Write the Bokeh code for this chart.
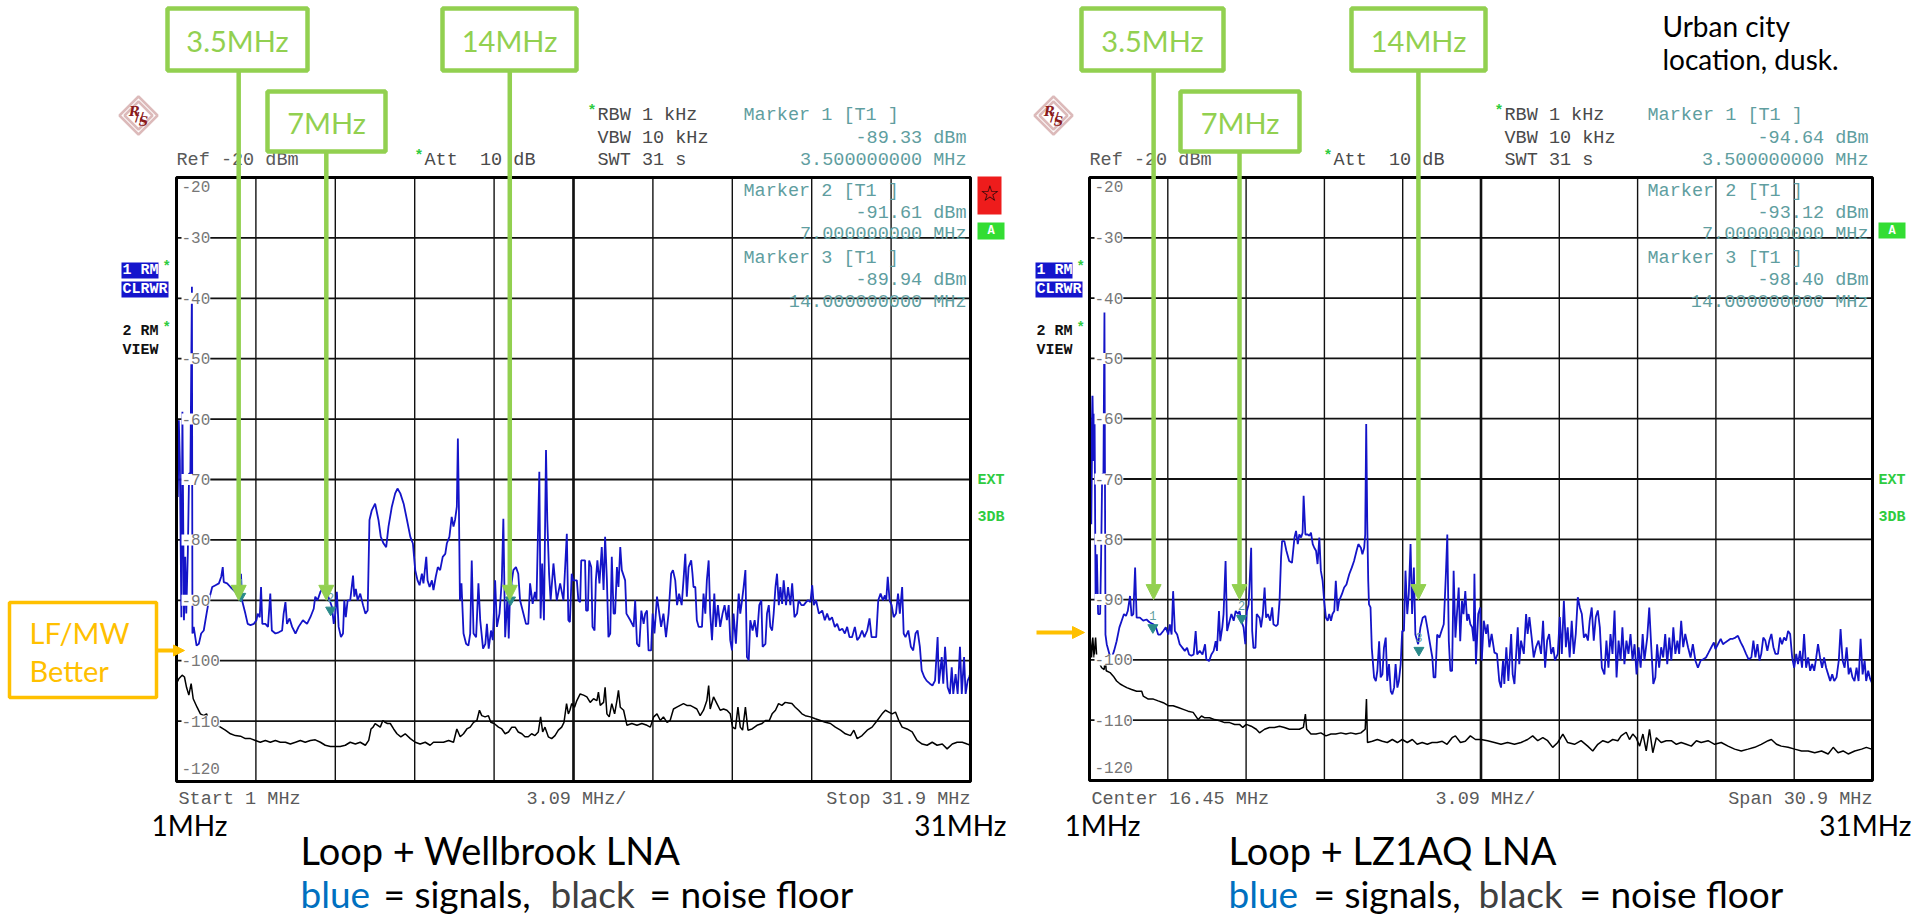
from bokeh.plotting import figure
from bokeh.layouts import row
from bokeh.models import (Range1d, Label, BoxAnnotation, Arrow, NormalHead, PolyAnnotation)
from bokeh.embed import file_html
from bokeh.resources import INLINE

# ---------------- data ----------------
F_START, F_STOP, F_DIV = 1.0, 31.9, 3.09
DB_TOP, DB_BOTTOM = -20, -120
y_tick_values = [-20, -30, -40, -50, -60, -70, -80, -90, -100, -110, -120]
y_tick_labels = ["-20", "-30", "-40", "-50", "-60", "-70", "-80", "-90", "-100", "-110", "-120"]

marker_f = [3.5, 7.0, 14.0]
wb_marker_db = [-89.33, -91.61, -89.94]
lz_marker_db = [-94.64, -93.12, -98.40]
arrow_labels = ["3.5MHz", "7MHz", "14MHz"]
wb_arrow_f = [3.42, 6.83, 13.97]
lz_arrow_f = [3.53, 6.92, 13.98]
ARROW_TIP_DB = -90

# Loop + Wellbrook LNA, trace 1 (signals)
wb_signal = [(1.00,-72.0),(1.03,-60.2),(1.05,-72.9),(1.09,-60.2),(1.13,-66.8),(1.19,-92.8),(1.23,-58.8),(1.29,-93.3),(1.34,-82.8),(1.38,-92.2),(1.44,-82.3),(1.49,-69.0),(1.54,-69.0),(1.60,-38.1),(1.62,-95.5),(1.67,-94.4),(1.78,-97.5),(1.87,-97.2),(1.96,-95.5),(2.06,-95.0),(2.17,-92.2),(2.26,-90.0),(2.39,-87.8),(2.52,-87.5),(2.65,-87.2),(2.74,-86.1),(2.80,-84.5),(2.84,-87.0),(2.97,-87.2),(3.10,-87.8),(3.29,-88.6),(3.42,-89.4),(3.51,-85.6),(3.55,-90.0),(3.68,-92.2),(3.77,-93.9),(3.88,-94.1),(4.01,-93.9),(4.11,-93.3),(4.16,-92.2),(4.24,-92.8),(4.29,-87.8),(4.34,-93.9),(4.46,-93.9),(4.56,-94.4),(4.65,-88.9),(4.71,-95.0),(4.85,-95.5),(4.98,-95.3),(5.11,-95.0),(5.17,-92.2),(5.24,-90.3),(5.30,-93.9),(5.40,-93.0),(5.50,-94.4),(5.63,-95.5),(5.75,-94.4),(5.92,-93.3),(6.08,-93.9),(6.21,-92.8),(6.34,-91.4),(6.40,-89.4),(6.49,-90.0),(6.60,-88.6),(6.73,-87.8),(6.86,-88.9),(6.96,-90.0),(7.05,-91.1),(7.12,-93.9),(7.18,-92.2),(7.24,-88.6),(7.31,-94.4),(7.40,-96.1),(7.48,-95.5),(7.53,-90.0),(7.59,-92.8),(7.66,-90.0),(7.76,-90.0),(7.87,-85.9),(7.92,-89.4),(7.98,-88.1),(8.05,-90.0),(8.15,-88.9),(8.26,-90.8),(8.35,-92.2),(8.44,-91.7),(8.51,-76.7),(8.60,-75.1),(8.73,-74.0),(8.86,-76.7),(8.95,-79.5),(9.06,-80.6),(9.16,-81.2),(9.25,-77.8),(9.38,-74.5),(9.51,-72.3),(9.60,-71.5),(9.71,-72.3),(9.84,-74.0),(9.97,-76.7),(10.10,-79.5),(10.20,-80.6),(10.29,-85.0),(10.38,-86.7),(10.46,-87.5),(10.55,-85.6),(10.61,-87.2),(10.72,-82.8),(10.77,-86.7),(10.85,-87.8),(10.94,-86.7),(11.00,-88.3),(11.09,-86.1),(11.17,-84.5),(11.26,-85.0),(11.36,-82.8),(11.46,-82.3),(11.52,-80.6),(11.62,-79.5),(11.71,-76.2),(11.78,-77.8),(11.84,-76.7),(11.91,-74.5),(11.95,-63.2),(11.99,-74.3),(12.03,-90.0),(12.09,-87.2),(12.17,-95.5),(12.27,-97.2),(12.36,-97.5),(12.43,-95.5),(12.49,-83.4),(12.56,-95.5),(12.66,-96.1),(12.75,-87.2),(12.82,-93.3),(12.93,-98.0),(13.02,-97.2),(13.08,-93.9),(13.15,-98.0),(13.24,-95.0),(13.31,-96.6),(13.40,-86.7),(13.47,-94.4),(13.57,-92.2),(13.66,-86.7),(13.72,-76.5),(13.79,-96.1),(13.88,-89.4),(13.93,-96.3),(13.98,-88.9),(14.11,-85.0),(14.21,-84.5),(14.30,-85.6),(14.37,-90.0),(14.50,-92.2),(14.60,-93.9),(14.69,-93.9),(14.76,-87.2),(14.86,-90.6),(14.95,-88.6),(15.01,-90.0),(15.12,-68.7),(15.17,-93.0),(15.23,-83.9),(15.30,-93.3),(15.38,-65.1),(15.43,-76.7),(15.50,-85.6),(15.56,-90.0),(15.67,-83.9),(15.80,-90.0),(15.93,-87.2),(16.06,-90.0),(16.19,-79.0),(16.25,-93.3),(16.31,-93.6),(16.38,-85.6),(16.44,-86.7),(16.49,-86.7),(16.58,-86.7),(16.64,-90.0),(16.71,-90.3),(16.75,-83.4),(16.84,-83.4),(16.90,-83.4),(16.94,-91.7),(17.01,-91.7),(17.06,-83.4),(17.14,-84.5),(17.19,-94.4),(17.27,-95.0),(17.32,-86.7),(17.38,-83.4),(17.46,-87.2),(17.55,-81.2),(17.62,-88.3),(17.68,-79.5),(17.75,-86.7),(17.81,-96.1),(17.88,-95.5),(17.94,-82.8),(18.01,-92.2),(18.07,-92.2),(18.14,-84.5),(18.20,-87.8),(18.27,-81.2),(18.33,-85.0),(18.46,-86.7),(18.51,-92.2),(18.66,-93.3),(18.79,-94.4),(18.85,-90.0),(18.92,-97.2),(19.01,-97.7),(19.09,-91.7),(19.18,-93.9),(19.24,-92.2),(19.31,-91.7),(19.37,-98.3),(19.47,-98.3),(19.53,-92.2),(19.60,-95.5),(19.70,-89.4),(19.79,-92.2),(19.86,-94.4),(19.95,-92.2),(20.05,-96.1),(20.15,-92.2),(20.25,-85.6),(20.32,-85.0),(20.41,-86.7),(20.48,-90.8),(20.56,-88.9),(20.66,-90.8),(20.73,-86.7),(20.80,-82.3),(20.86,-89.4),(20.93,-84.5),(21.03,-83.4),(21.08,-85.6),(21.12,-87.8),(21.19,-87.8),(21.25,-93.3),(21.32,-94.4),(21.45,-94.4),(21.51,-88.9),(21.58,-92.2),(21.64,-86.7),(21.71,-83.4),(21.77,-92.2),(21.84,-96.6),(21.93,-88.9),(21.99,-94.4),(22.07,-90.8),(22.16,-94.4),(22.25,-92.2),(22.33,-90.8),(22.42,-93.3),(22.49,-90.8),(22.55,-96.6),(22.62,-98.3),(22.68,-92.2),(22.77,-97.2),(22.88,-88.9),(22.94,-92.2),(23.01,-90.0),(23.07,-87.8),(23.14,-85.0),(23.20,-99.4),(23.27,-99.9),(23.33,-93.3),(23.42,-95.0),(23.50,-93.3),(23.59,-96.1),(23.68,-90.8),(23.76,-90.0),(23.81,-97.7),(23.92,-97.2),(23.98,-92.2),(24.05,-90.8),(24.11,-94.4),(24.18,-95.0),(24.24,-92.2),(24.31,-87.8),(24.37,-85.6),(24.44,-90.8),(24.50,-87.8),(24.57,-90.6),(24.63,-86.7),(24.72,-90.8),(24.80,-87.8),(24.89,-90.8),(24.96,-87.2),(25.05,-92.8),(25.15,-92.2),(25.21,-90.0),(25.32,-90.8),(25.41,-90.8),(25.50,-90.3),(25.58,-90.0),(25.67,-90.3),(25.74,-87.5),(25.80,-90.8),(25.89,-90.0),(26.00,-92.2),(26.13,-91.7),(26.23,-93.3),(26.32,-92.2),(26.41,-93.3),(26.51,-92.8),(26.62,-94.4),(26.71,-93.9),(26.80,-95.0),(26.91,-94.7),(27.01,-95.5),(27.10,-94.4),(27.19,-96.1),(27.29,-96.1),(27.40,-94.4),(27.49,-96.6),(27.58,-96.1),(27.68,-95.0),(27.77,-96.1),(27.88,-95.0),(27.97,-93.0),(28.05,-96.1),(28.14,-96.1),(28.23,-96.1),(28.31,-90.0),(28.40,-88.9),(28.49,-90.0),(28.57,-89.2),(28.62,-90.0),(28.68,-86.1),(28.75,-90.0),(28.83,-90.8),(28.91,-92.8),(29.00,-92.2),(29.08,-88.9),(29.15,-92.2),(29.24,-87.8),(29.30,-95.5),(29.37,-96.1),(29.48,-95.0),(29.58,-97.7),(29.67,-98.3),(29.76,-95.5),(29.84,-95.0),(29.93,-97.7),(30.00,-101.6),(30.10,-102.7),(30.19,-103.3),(30.32,-103.8),(30.42,-104.1),(30.52,-103.3),(30.62,-96.1),(30.67,-103.8),(30.78,-99.4),(30.84,-103.8),(30.91,-97.7),(31.01,-104.4),(31.10,-105.5),(31.17,-101.1),(31.23,-105.5),(31.32,-102.2),(31.40,-105.5),(31.49,-97.7),(31.56,-105.5),(31.65,-99.4),(31.71,-105.5),(31.79,-103.3),(31.85,-102.7),(31.90,-102.0)]

# Loop + Wellbrook LNA, trace 2 (noise floor)
wb_noise = [(1.00,-103.0),(1.03,-103.5),(1.09,-103.0),(1.22,-102.4),(1.31,-102.7),(1.39,-104.4),(1.48,-105.7),(1.57,-103.8),(1.65,-106.3),(1.80,-107.7),(1.93,-108.8),(2.06,-109.1),(2.17,-108.8),(2.26,-109.9),(2.39,-109.9),(2.52,-110.4),(2.71,-111.0),(2.90,-111.5),(3.10,-112.1),(3.29,-112.4),(3.49,-112.5),(3.68,-112.9),(3.88,-112.9),(4.07,-113.2),(4.26,-113.5),(4.46,-113.2),(4.65,-113.5),(4.85,-113.2),(5.04,-113.5),(5.24,-113.5),(5.43,-113.8),(5.63,-113.5),(5.82,-113.2),(6.01,-113.5),(6.21,-113.2),(6.40,-113.1),(6.60,-113.5),(6.79,-114.0),(6.99,-114.2),(7.18,-114.2),(7.37,-114.2),(7.57,-114.0),(7.76,-113.5),(7.96,-113.8),(8.15,-113.5),(8.35,-114.0),(8.48,-113.2),(8.57,-111.3),(8.65,-111.0),(8.73,-110.4),(8.83,-110.7),(8.93,-111.0),(9.03,-109.9),(9.12,-110.2),(9.21,-110.4),(9.32,-110.4),(9.45,-111.3),(9.58,-112.1),(9.73,-112.6),(9.90,-112.1),(10.10,-112.9),(10.29,-113.5),(10.48,-113.8),(10.68,-113.5),(10.87,-114.0),(11.00,-113.5),(11.20,-113.5),(11.39,-113.5),(11.59,-113.2),(11.78,-113.5),(11.91,-111.3),(12.04,-112.6),(12.17,-112.1),(12.30,-111.3),(12.43,-111.0),(12.56,-110.2),(12.69,-109.9),(12.79,-108.2),(12.88,-109.1),(13.01,-109.3),(13.14,-109.1),(13.23,-110.2),(13.36,-110.4),(13.53,-111.0),(13.66,-111.3),(13.79,-112.1),(13.92,-111.8),(14.05,-111.0),(14.18,-111.0),(14.30,-111.8),(14.44,-112.1),(14.56,-112.6),(14.69,-112.6),(14.82,-112.1),(14.95,-112.4),(15.08,-111.8),(15.17,-109.3),(15.25,-111.8),(15.34,-111.0),(15.47,-112.6),(15.60,-112.9),(15.73,-112.4),(15.86,-111.5),(15.99,-111.0),(16.08,-110.2),(16.18,-107.1),(16.25,-108.8),(16.31,-108.2),(16.38,-107.1),(16.49,-107.7),(16.58,-106.6),(16.71,-105.5),(16.84,-105.7),(16.97,-106.0),(17.10,-106.9),(17.23,-106.3),(17.36,-106.6),(17.42,-105.2),(17.49,-107.4),(17.62,-106.9),(17.68,-104.4),(17.75,-108.8),(17.84,-109.3),(17.94,-107.1),(18.05,-108.8),(18.14,-106.6),(18.20,-104.9),(18.27,-107.7),(18.40,-108.2),(18.53,-110.7),(18.72,-110.4),(18.92,-110.7),(19.11,-110.4),(19.31,-110.7),(19.44,-111.0),(19.57,-109.3),(19.70,-108.8),(19.83,-109.9),(19.95,-109.3),(20.09,-110.2),(20.21,-109.9),(20.34,-108.0),(20.47,-107.7),(20.60,-107.4),(20.73,-107.1),(20.86,-107.4),(20.99,-107.4),(21.12,-107.7),(21.25,-108.0),(21.38,-109.1),(21.51,-108.2),(21.64,-106.6),(21.71,-104.1),(21.77,-108.0),(21.90,-106.0),(22.03,-107.1),(22.16,-108.2),(22.29,-108.0),(22.42,-108.2),(22.55,-108.8),(22.64,-111.0),(22.75,-111.3),(22.85,-107.7),(22.94,-111.0),(23.03,-111.5),(23.14,-107.7),(23.24,-111.5),(23.40,-111.3),(23.59,-110.7),(23.79,-110.4),(23.92,-109.9),(24.07,-109.9),(24.18,-108.8),(24.31,-108.2),(24.43,-107.1),(24.56,-107.4),(24.69,-106.9),(24.82,-107.0),(24.95,-107.1),(25.08,-107.7),(25.21,-108.2),(25.34,-108.8),(25.47,-109.1),(25.67,-109.3),(25.86,-109.6),(26.06,-109.9),(26.25,-110.2),(26.45,-110.4),(26.64,-111.0),(26.84,-111.5),(27.03,-112.1),(27.23,-112.4),(27.36,-111.5),(27.49,-112.9),(27.68,-112.4),(27.88,-111.5),(28.07,-111.0),(28.27,-109.9),(28.46,-108.8),(28.59,-108.2),(28.72,-108.5),(28.85,-108.8),(28.98,-108.5),(29.11,-109.9),(29.24,-111.0),(29.43,-111.3),(29.63,-111.8),(29.82,-113.2),(30.02,-113.8),(30.21,-114.0),(30.41,-113.5),(30.60,-114.0),(30.80,-113.8),(30.99,-114.6),(31.19,-113.8),(31.38,-113.5),(31.58,-113.5),(31.77,-113.8),(31.90,-114.0)]

# Loop + LZ1AQ LNA, trace 1 (signals)
lz_signal = [(1.00,-75.0),(1.03,-56.2),(1.07,-77.5),(1.12,-56.2),(1.16,-67.0),(1.20,-59.2),(1.24,-90.2),(1.29,-82.5),(1.34,-92.4),(1.42,-92.4),(1.46,-82.5),(1.50,-69.2),(1.55,-69.2),(1.59,-42.4),(1.63,-95.8),(1.68,-97.4),(1.79,-99.1),(1.88,-99.6),(1.97,-98.5),(2.07,-96.9),(2.18,-94.6),(2.27,-93.5),(2.36,-92.4),(2.44,-92.7),(2.51,-91.9),(2.60,-89.4),(2.66,-92.7),(2.73,-92.4),(2.80,-84.7),(2.86,-93.0),(2.99,-93.0),(3.12,-93.5),(3.25,-93.3),(3.38,-93.8),(3.52,-94.1),(3.62,-94.6),(3.71,-95.8),(3.80,-95.8),(3.91,-95.2),(4.01,-94.6),(4.11,-95.8),(4.17,-94.1),(4.24,-95.8),(4.30,-88.6),(4.37,-95.2),(4.46,-95.8),(4.56,-97.4),(4.67,-98.0),(4.76,-98.5),(4.85,-98.0),(4.93,-99.1),(5.02,-99.3),(5.11,-99.1),(5.19,-95.2),(5.25,-99.1),(5.35,-98.5),(5.46,-99.1),(5.56,-97.4),(5.61,-99.9),(5.72,-100.2),(5.81,-99.1),(5.90,-98.5),(5.98,-96.9),(6.03,-98.5),(6.11,-91.9),(6.16,-96.9),(6.24,-94.6),(6.29,-92.4),(6.37,-83.6),(6.43,-95.2),(6.53,-93.5),(6.60,-92.4),(6.69,-93.5),(6.77,-91.9),(6.86,-92.4),(6.92,-91.9),(6.99,-93.5),(7.08,-94.6),(7.15,-97.4),(7.21,-91.9),(7.28,-90.8),(7.38,-81.4),(7.42,-95.2),(7.47,-98.0),(7.55,-98.0),(7.60,-92.4),(7.71,-93.0),(7.77,-94.6),(7.84,-92.4),(7.91,-88.0),(7.97,-93.0),(8.04,-92.4),(8.13,-93.5),(8.21,-91.3),(8.26,-94.1),(8.36,-94.4),(8.43,-94.1),(8.50,-90.2),(8.56,-83.0),(8.60,-80.3),(8.69,-80.3),(8.77,-81.9),(8.88,-83.6),(8.99,-83.9),(9.09,-79.7),(9.15,-78.6),(9.22,-80.8),(9.28,-79.2),(9.35,-79.7),(9.41,-78.9),(9.45,-72.8),(9.52,-79.2),(9.61,-79.2),(9.68,-79.4),(9.74,-78.9),(9.81,-80.8),(9.87,-81.4),(9.94,-81.9),(10.00,-84.1),(10.07,-79.7),(10.13,-85.2),(10.20,-86.9),(10.26,-90.2),(10.33,-93.0),(10.40,-93.5),(10.46,-92.4),(10.53,-93.5),(10.59,-92.4),(10.66,-91.9),(10.72,-86.9),(10.79,-91.9),(10.85,-90.2),(10.96,-89.1),(11.05,-88.0),(11.14,-87.5),(11.25,-85.8),(11.35,-84.7),(11.44,-83.6),(11.54,-81.9),(11.61,-80.8),(11.71,-81.4),(11.77,-82.5),(11.84,-81.4),(11.88,-79.2),(11.92,-60.9),(11.96,-77.0),(12.00,-86.9),(12.03,-90.8),(12.09,-91.3),(12.14,-98.0),(12.23,-102.9),(12.30,-103.5),(12.36,-101.8),(12.43,-96.9),(12.49,-102.9),(12.56,-102.4),(12.62,-98.0),(12.69,-96.3),(12.75,-103.5),(12.82,-100.7),(12.89,-105.2),(12.95,-105.7),(13.02,-104.6),(13.08,-100.7),(13.15,-104.6),(13.21,-103.5),(13.28,-100.7),(13.34,-95.2),(13.41,-95.2),(13.47,-85.2),(13.54,-92.4),(13.60,-89.1),(13.67,-80.8),(13.73,-92.4),(13.80,-84.7),(13.86,-95.8),(13.97,-97.4),(14.06,-94.6),(14.15,-93.0),(14.25,-92.7),(14.33,-94.6),(14.42,-96.9),(14.53,-99.6),(14.58,-102.9),(14.65,-102.9),(14.72,-95.8),(14.81,-96.3),(14.89,-95.2),(14.98,-94.1),(15.07,-85.2),(15.12,-79.2),(15.18,-96.9),(15.24,-101.8),(15.31,-101.8),(15.37,-85.2),(15.44,-96.3),(15.50,-92.4),(15.57,-88.0),(15.63,-96.9),(15.70,-90.2),(15.76,-92.4),(15.83,-88.6),(15.90,-93.5),(15.96,-92.4),(16.03,-94.1),(16.10,-94.6),(16.16,-96.9),(16.19,-85.7),(16.25,-100.7),(16.34,-92.4),(16.42,-91.3),(16.48,-100.1),(16.56,-93.5),(16.65,-95.7),(16.71,-94.1),(16.78,-97.9),(16.87,-95.7),(16.98,-98.8),(17.08,-99.0),(17.17,-103.5),(17.24,-104.6),(17.32,-100.1),(17.37,-104.0),(17.45,-97.9),(17.53,-103.5),(17.64,-95.7),(17.70,-102.4),(17.77,-104.0),(17.83,-99.6),(17.90,-94.6),(17.96,-100.7),(18.03,-96.8),(18.14,-99.0),(18.23,-92.4),(18.29,-95.7),(18.36,-92.9),(18.45,-96.3),(18.53,-99.6),(18.62,-97.9),(18.72,-96.8),(18.82,-99.0),(18.90,-93.5),(18.98,-101.3),(19.06,-96.8),(19.14,-95.7),(19.22,-99.0),(19.30,-97.9),(19.37,-100.1),(19.48,-99.0),(19.56,-92.9),(19.64,-99.0),(19.72,-90.2),(19.80,-97.9),(19.87,-94.6),(19.95,-99.6),(20.03,-93.5),(20.11,-99.0),(20.19,-95.7),(20.27,-89.6),(20.35,-91.3),(20.43,-92.4),(20.51,-96.3),(20.59,-95.7),(20.67,-96.8),(20.74,-93.5),(20.82,-91.3),(20.90,-96.8),(20.98,-92.9),(21.06,-91.8),(21.14,-94.6),(21.22,-101.3),(21.32,-102.4),(21.40,-96.8),(21.48,-101.3),(21.56,-95.7),(21.64,-99.0),(21.72,-91.8),(21.80,-102.9),(21.88,-96.8),(21.96,-100.1),(22.03,-94.6),(22.11,-100.7),(22.19,-96.8),(22.27,-99.0),(22.35,-95.7),(22.43,-100.1),(22.51,-97.4),(22.59,-102.4),(22.67,-97.9),(22.75,-101.3),(22.83,-95.7),(22.90,-100.1),(23.01,-96.3),(23.09,-91.3),(23.17,-97.9),(23.25,-104.0),(23.33,-102.9),(23.40,-97.4),(23.48,-101.3),(23.56,-97.9),(23.64,-99.6),(23.72,-95.7),(23.80,-100.7),(23.88,-96.3),(23.96,-100.1),(24.04,-94.6),(24.12,-99.0),(24.20,-96.8),(24.27,-99.0),(24.35,-93.5),(24.43,-97.9),(24.51,-95.7),(24.62,-97.9),(24.72,-99.6),(24.81,-97.4),(24.91,-100.1),(25.01,-101.3),(25.12,-100.1),(25.22,-99.9),(25.33,-99.6),(25.43,-98.8),(25.54,-97.9),(25.64,-97.1),(25.70,-98.2),(25.80,-97.4),(25.91,-96.5),(26.00,-97.4),(26.09,-97.1),(26.20,-96.8),(26.30,-96.5),(26.39,-96.5),(26.49,-96.3),(26.59,-96.0),(26.70,-97.1),(26.80,-97.9),(26.91,-99.0),(27.01,-99.9),(27.12,-99.6),(27.20,-96.8),(27.28,-99.6),(27.36,-97.4),(27.44,-100.1),(27.51,-99.0),(27.59,-96.3),(27.67,-96.8),(27.75,-98.5),(27.83,-96.8),(27.91,-95.7),(27.99,-97.9),(28.07,-99.0),(28.17,-99.0),(28.25,-96.3),(28.33,-97.4),(28.41,-96.3),(28.49,-96.8),(28.57,-95.2),(28.65,-95.7),(28.73,-99.6),(28.81,-101.3),(28.89,-99.0),(28.96,-100.7),(29.04,-98.5),(29.12,-101.3),(29.20,-95.7),(29.28,-101.3),(29.36,-99.6),(29.44,-101.8),(29.52,-100.7),(29.60,-101.8),(29.68,-99.6),(29.75,-97.4),(29.83,-99.6),(29.91,-101.3),(29.99,-99.6),(30.07,-101.3),(30.15,-102.4),(30.23,-103.5),(30.31,-102.4),(30.39,-103.5),(30.48,-102.9),(30.57,-100.1),(30.64,-94.9),(30.72,-100.1),(30.80,-101.3),(30.88,-97.9),(30.96,-102.4),(31.03,-101.3),(31.11,-102.9),(31.19,-103.5),(31.27,-101.3),(31.35,-103.5),(31.43,-96.5),(31.51,-102.4),(31.59,-100.1),(31.65,-103.5),(31.73,-101.8),(31.81,-103.2),(31.90,-104.0)]

# Loop + LZ1AQ LNA, trace 2 (noise floor)
lz_noise = [(1.00,-97.0),(1.03,-96.3),(1.08,-99.6),(1.13,-96.3),(1.18,-99.6),(1.24,-96.3),(1.29,-99.9),(1.35,-100.2),(1.48,-101.3),(1.58,-101.6),(1.62,-99.6),(1.66,-101.8),(1.81,-102.1),(1.94,-102.7),(2.07,-103.5),(2.21,-104.0),(2.34,-104.3),(2.47,-104.6),(2.66,-104.9),(2.86,-105.2),(3.06,-105.2),(3.12,-106.0),(3.32,-106.5),(3.52,-106.5),(3.71,-106.8),(3.91,-107.1),(4.11,-107.6),(4.30,-107.6),(4.50,-107.9),(4.70,-108.2),(4.89,-108.5),(5.09,-108.7),(5.29,-109.9),(5.42,-109.3),(5.55,-109.6),(5.74,-109.6),(5.94,-109.9),(6.14,-110.1),(6.33,-110.4),(6.53,-110.4),(6.73,-110.7),(6.92,-110.7),(7.05,-111.2),(7.19,-110.7),(7.38,-111.0),(7.58,-111.5),(7.71,-112.1),(7.91,-111.5),(8.10,-111.2),(8.30,-111.2),(8.50,-111.0),(8.69,-111.2),(8.89,-111.5),(9.09,-111.5),(9.28,-111.5),(9.44,-111.2),(9.52,-109.0),(9.57,-111.5),(9.74,-112.3),(9.94,-112.3),(10.13,-112.1),(10.33,-112.6),(10.53,-112.3),(10.72,-112.3),(10.92,-112.1),(11.12,-112.3),(11.31,-112.1),(11.51,-112.3),(11.71,-112.1),(11.88,-111.5),(11.93,-106.5),(11.97,-113.7),(12.16,-113.5),(12.36,-113.2),(12.56,-113.5),(12.75,-113.7),(12.95,-113.2),(13.15,-113.7),(13.34,-113.2),(13.54,-113.7),(13.74,-113.2),(13.93,-114.0),(14.13,-113.7),(14.33,-114.0),(14.52,-113.7),(14.72,-113.7),(14.92,-113.5),(15.11,-114.0),(15.31,-112.9),(15.44,-112.6),(15.64,-113.7),(15.83,-113.5),(16.03,-112.6),(16.23,-113.2),(16.45,-113.2),(16.71,-113.4),(16.98,-113.7),(17.24,-114.0),(17.50,-113.7),(17.77,-114.0),(18.03,-113.7),(18.29,-113.2),(18.49,-112.6),(18.69,-113.4),(18.89,-112.9),(19.08,-113.4),(19.28,-114.5),(19.48,-113.7),(19.68,-112.3),(19.87,-113.7),(20.14,-114.0),(20.40,-113.4),(20.66,-114.3),(20.86,-115.1),(21.06,-114.0),(21.26,-113.4),(21.46,-113.7),(21.65,-113.2),(21.85,-113.4),(21.98,-112.6),(22.18,-112.0),(22.31,-113.2),(22.44,-112.3),(22.57,-112.9),(22.71,-114.3),(22.84,-112.3),(22.97,-115.1),(23.10,-111.5),(23.23,-115.4),(23.37,-112.9),(23.56,-113.7),(23.76,-113.4),(23.96,-113.4),(24.16,-114.0),(24.35,-113.7),(24.55,-114.0),(24.75,-114.3),(24.95,-113.4),(25.14,-113.7),(25.41,-113.4),(25.67,-114.0),(25.93,-113.7),(26.20,-114.3),(26.46,-114.8),(26.72,-115.1),(26.99,-114.8),(27.25,-114.5),(27.51,-114.0),(27.78,-113.4),(27.91,-113.2),(28.11,-114.0),(28.30,-114.3),(28.57,-114.5),(28.83,-114.8),(29.10,-115.1),(29.36,-115.1),(29.62,-115.4),(29.89,-115.1),(30.15,-115.6),(30.35,-114.5),(30.54,-115.4),(30.74,-115.1),(30.94,-115.6),(31.20,-115.1),(31.47,-114.8),(31.66,-114.5),(31.86,-114.8),(31.90,-114.6)]

# ---------------- style / layout ----------------
H = 916
GREEN = "#92D050"
ORANGE = "#FFC000"
TEAL = "#5f9ea0"
MARK_TEAL = "#2a8a8a"
STAR_GREEN = "#2ecc40"
IND_BLUE = "#1515cc"
TRACE_BLUE = "#1414c8"
LOGO_RED = "#8b1c1c"
HDR = "#4a4a4a"
MONO = "Liberation Mono"
SANS = "Lato"
NB = "\u00a0"

# canvas pixel geometry of the two analyser screens
GEOM = {
    "wb": dict(fx0=176, fx1=970, fy0=177, fy1=781, cx0=0, cw=1025),
    "lz": dict(fx0=1089, fx1=1872, fy0=177, fy1=780, cx0=1025, cw=906),
}
LAYOUT = {
    "wb": dict(logo=(138, 115),
               boxes=[(167, 8, 307, 70), (267, 91, 385, 151), (442, 8, 576, 70)],
               rbw_x=597, att_x=424, marker_x=743, value_rx=966, ind_x=121,
               a_box=(977, 222, 1004, 239), ext_x=977,
               lo_x=151, hi_rx=1006, div_x=526, start_text="Start %g MHz" % F_START,
               stop_text="Stop %g MHz" % F_STOP,
               title="Loop + Wellbrook LNA", title_x=300, legend_x=[300, 383, 550, 649]),
    "lz": dict(logo=(1053, 115),
               boxes=[(1081, 8, 1223, 70), (1180, 91, 1299, 151), (1351, 8, 1485, 70)],
               rbw_x=1504, att_x=1333, marker_x=1647, value_rx=1868, ind_x=1035,
               a_box=(1878, 222, 1905, 238), ext_x=1878,
               lo_x=1064, hi_rx=1911, div_x=1435,
               start_text="Center %g MHz" % ((F_START + F_STOP) / 2),
               stop_text="Span %g MHz" % (F_STOP - F_START),
               title="Loop + LZ1AQ LNA", title_x=1228, legend_x=[1228, 1313, 1478, 1579]),
}


def build(key, signal, noise, marker_db, arrow_f):
    g, L = GEOM[key], LAYOUT[key]
    fx0, fx1, fy0, fy1, cx0, cw = g["fx0"], g["fx1"], g["fy0"], g["fy1"], g["cx0"], g["cw"]
    # the whole canvas is the plot frame; the ranges are widened so the
    # analyser screen (F_START..F_STOP, DB_BOTTOM..DB_TOP) lands on its place
    ppm = (fx1 - fx0) / (F_STOP - F_START)
    ppd = (fy1 - fy0) / (DB_TOP - DB_BOTTOM)
    xr = Range1d(F_START - (fx0 - cx0) / ppm, F_STOP + (cx0 + cw - fx1) / ppm)
    yr = Range1d(DB_BOTTOM - (H - fy1) / ppd, DB_TOP + fy0 / ppd)
    p = figure(width=cw, height=H, min_border=0, x_range=xr, y_range=yr,
               x_axis_location=None, y_axis_location=None, title=None,
               toolbar_location=None, output_backend="svg")
    p.background_fill_color = "white"
    p.border_fill_color = "white"
    p.outline_line_color = None
    p.xgrid.visible = False
    p.ygrid.visible = False

    x_div = [F_START + k * F_DIV for k in range(11)]
    center = (F_START + F_STOP) / 2

    # graticule
    p.segment(x0=x_div, y0=[DB_BOTTOM] * len(x_div), x1=x_div, y1=[DB_TOP] * len(x_div),
              line_color="#111111", line_width=1.4)
    p.segment(x0=[F_START] * len(y_tick_values), y0=y_tick_values,
              x1=[F_STOP] * len(y_tick_values), y1=y_tick_values,
              line_color="#111111", line_width=1.8)
    p.segment(x0=[center], y0=[DB_BOTTOM], x1=[center], y1=[DB_TOP],
              line_color="#111111", line_width=2.6)

    def S(X, Y):
        return X - cx0, H - Y

    def text(X, Y, s, size, color, font=MONO, align="left", style="normal", bg=None):
        sx, sy = S(X, Y)
        p.add_layout(Label(x=sx, y=sy, x_units="screen", y_units="screen", text=s,
                           text_font=font, text_font_size=f"{size}px", text_color=color,
                           text_align=align, text_baseline="middle",
                           text_font_style=style, background_fill_color=bg))

    def rect(X0, Y0, X1, Y1, line_color=None, line_width=0, fill_color="white"):
        l, t = S(X0, Y0)
        r, b = S(X1, Y1)
        p.add_layout(BoxAnnotation(left=l, right=r, top=t, bottom=b,
                                   left_units="screen", right_units="screen",
                                   top_units="screen", bottom_units="screen",
                                   line_color=line_color, line_width=line_width,
                                   line_alpha=1.0 if line_color else 0.0,
                                   fill_color=fill_color, fill_alpha=1.0))

    def y_to_db(Y):
        return DB_TOP - (Y - fy0) / ppd

    # y labels inside the graticule
    for v, lab in zip(y_tick_values, y_tick_labels):
        off = -9 if v == DB_TOP else (13 if v == DB_BOTTOM else 0)
        p.add_layout(Label(x=F_START, y=v, x_offset=5, y_offset=off, text=lab,
                           text_font=MONO, text_font_size="16px", text_color="#777777",
                           text_baseline="middle",
                           background_fill_color=None if off else "white"))

    # traces
    p.line([f for f, _ in noise], [d for _, d in noise], line_color="black", line_width=1.5)
    p.line([f for f, _ in signal], [d for _, d in signal], line_color=TRACE_BLUE, line_width=1.8)
    p.scatter(marker_f, marker_db, marker="inverted_triangle", size=10,
              fill_color=MARK_TEAL, line_color=MARK_TEAL)
    for i, (f, d) in enumerate(zip(marker_f, marker_db)):
        p.add_layout(Label(x=f, y=d, y_offset=8, text=str(i + 1), text_font=MONO,
                           text_font_size="12px", text_color=TEAL, text_align="center",
                           text_baseline="bottom"))

    # screen border
    p.quad(left=[F_START], right=[F_STOP], bottom=[DB_BOTTOM], top=[DB_TOP],
           fill_color=None, line_color="black", line_width=3)

    # analyser header
    text(L["rbw_x"] - 10, 111, "*", 15, STAR_GREEN, style="bold")
    text(L["rbw_x"], 115, "RBW 1 kHz", 18.5, HDR)
    text(L["rbw_x"], 138, "VBW 10 kHz", 18.5, HDR)
    text(L["rbw_x"], 160, "SWT 31 s", 18.5, HDR)
    text(fx0, 160, "Ref %d dBm" % DB_TOP, 18.5, "#5a5a5a")
    text(L["att_x"] - 10, 156, "*", 15, STAR_GREEN, style="bold")
    text(L["att_x"], 160, "Att" + NB + NB + "10 dB", 18.5, HDR)
    rows = [(115, 138, 160), (191, 213, 234), (258, 280, 302)]
    for i, (f, d) in enumerate(zip(marker_f, marker_db)):
        y1, y2, y3 = rows[i]
        text(L["marker_x"], y1, "Marker %d [T1 ]" % (i + 1), 18.5, TEAL)
        text(L["value_rx"], y2, "%.2f dBm" % d, 18.5, TEAL, align="right")
        text(L["value_rx"], y3, "%.9f MHz" % f, 18.5, TEAL, align="right")

    # bottom analyser labels
    text(fx0 + 2, 799, L["start_text"], 18.5, "#5a5a5a")
    text(L["div_x"], 799, "%.2f MHz/" % F_DIV, 18.5, "#5a5a5a")
    text(fx1, 799, L["stop_text"], 18.5, "#5a5a5a", align="right")

    # trace indicators on the left
    ix = L["ind_x"]
    rect(ix, 262, ix + 37, 278, fill_color=IND_BLUE)
    text(ix + 1, 270, "1 RM", 15, "white", style="bold")
    text(ix + 41, 266, "*", 14, STAR_GREEN, style="bold")
    rect(ix, 281, ix + 47, 297, fill_color=IND_BLUE)
    text(ix + 1, 289, "CLRWR", 15, "white", style="bold")
    text(ix + 1, 331, "2 RM", 15, "#111111", style="bold")
    text(ix + 41, 327, "*", 14, STAR_GREEN, style="bold")
    text(ix + 1, 350, "VIEW", 15, "#111111", style="bold")

    # right side indicators
    if key == "wb":
        rect(977, 176, 1001, 214, fill_color="#ee1c1c")
        text(989, 193, "\u2606", 22, "black", font="DejaVu Sans", align="center")
    ax0, ay0, ax1, ay1 = L["a_box"]
    rect(ax0, ay0, ax1, ay1, fill_color="#33dd33")
    text((ax0 + ax1) / 2, (ay0 + ay1) / 2, "A", 12, "white", style="bold", align="center")
    text(L["ext_x"], 480, "EXT", 15, STAR_GREEN, style="bold")
    text(L["ext_x"], 517, "3DB", 15, STAR_GREEN, style="bold")

    # R&S logo
    cx, cy = L["logo"]
    for r in (19, 14):
        xs = [cx, cx + r, cx, cx - r]
        ys = [cy - r, cy, cy + r, cy]
        p.add_layout(PolyAnnotation(xs=[X - cx0 for X in xs], ys=[H - Y for Y in ys],
                                    xs_units="screen", ys_units="screen",
                                    fill_alpha=0.0, line_color=LOGO_RED, line_width=2.5))
    text(cx - 4, cy - 4, "R", 13, LOGO_RED, font="DejaVu Serif", align="center", style="bold italic")
    text(cx + 1, cy + 1, "//", 12, LOGO_RED, font="DejaVu Sans", align="center", style="bold")
    text(cx + 5, cy + 6, "S", 13, LOGO_RED, font="DejaVu Serif", align="center", style="bold italic")

    # green frequency call-outs
    for f, (X0, Y0, X1, Y1), lab in zip(arrow_f, L["boxes"], arrow_labels):
        p.add_layout(Arrow(end=NormalHead(size=15, fill_color=GREEN, line_color=GREEN, line_width=1),
                           x_start=f, y_start=y_to_db(Y1), x_end=f, y_end=ARROW_TIP_DB,
                           line_color=GREEN, line_width=4.5))
        rect(X0, Y0, X1, Y1, line_color=GREEN, line_width=4.5, fill_color="white")
        text((X0 + X1) / 2, (Y0 + Y1) / 2 + 1, lab, 29, GREEN, font=SANS, align="center")

    # slide captions
    text(L["lo_x"], 824, "1MHz", 28, "black", font=SANS)
    text(L["hi_rx"], 824, "31MHz", 28, "black", font=SANS, align="right")
    text(L["title_x"], 849, L["title"], 38, "black", font=SANS)
    pieces = [("blue", "#0070C0"), ("= signals,", "black"), ("black", "#404040"),
              ("= noise floor", "black")]
    for X, (s, c) in zip(L["legend_x"], pieces):
        text(X, 893, s, 37, c, font=SANS)

    if key == "wb":
        rect(9, 602, 156, 697, line_color=ORANGE, line_width=3.5, fill_color="white")
        text(29, 632, "LF/MW", 29, ORANGE, font=SANS)
        text(29, 670, "Better", 29, ORANGE, font=SANS)
        p.add_layout(Arrow(end=NormalHead(size=11, fill_color=ORANGE, line_color=ORANGE, line_width=1),
                           start_units="screen", end_units="screen",
                           x_start=157 - cx0, y_start=H - 650, x_end=184 - cx0, y_end=H - 650,
                           line_color=ORANGE, line_width=4))
    else:
        p.add_layout(Arrow(end=NormalHead(size=12, fill_color=ORANGE, line_color=ORANGE, line_width=1),
                           start_units="screen", end_units="screen",
                           x_start=1036 - cx0, y_start=H - 632, x_end=1084 - cx0, y_end=H - 632,
                           line_color=ORANGE, line_width=4))
        text(1662, 25, "Urban city", 28, "black", font=SANS)
        text(1662, 58, "location, dusk.", 28, "black", font=SANS)
    return p


p_wb = build("wb", wb_signal, wb_noise, wb_marker_db, wb_arrow_f)
p_lz = build("lz", lz_signal, lz_noise, lz_marker_db, lz_arrow_f)
p = row(p_wb, p_lz)
open("out.html", "w").write(file_html(p, INLINE))
